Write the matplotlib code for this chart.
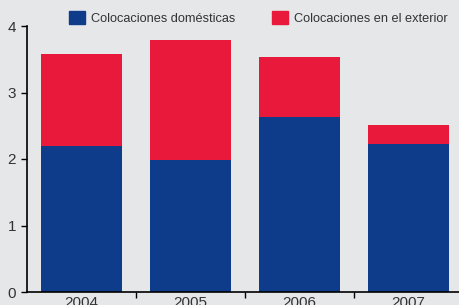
import matplotlib
matplotlib.use('Agg')
import matplotlib.pyplot as plt
import matplotlib.patches as mpatches
from matplotlib.ticker import FixedLocator, NullFormatter
import numpy as np

# ---------------------------------------------------------------------------
# Data
# ---------------------------------------------------------------------------
years = ['2004', '2005', '2006', '2007']
domesticas = [2.19, 1.98, 2.63, 2.23]
exterior = [1.39, 1.81, 0.90, 0.28]

BLUE = '#0f3c8a'
RED = '#e8193a'
BG = '#e6e7e9'
TXT = '#333333'

plt.rcParams['font.family'] = ['Liberation Sans', 'DejaVu Sans']

fig = plt.figure(figsize=(4.6, 3.05), dpi=100)
fig.patch.set_facecolor(BG)
ax = fig.add_axes([27 / 460, 13 / 305, 436 / 460, 266 / 305])
ax.set_facecolor(BG)

x = np.arange(len(years))
ax.bar(x, domesticas, width=0.74, color=BLUE, linewidth=0)
ax.bar(x, exterior, width=0.74, bottom=domesticas, color=RED, linewidth=0)

ax.set_xlim(-0.5, 3.5)
ax.set_ylim(0, 4)
ax.set_yticks([0, 1, 2, 3, 4])
ax.tick_params(axis='y', direction='out', length=4, width=1, labelsize=11,
               pad=4, labelcolor=TXT)

ax.set_xticks(x)
ax.set_xticklabels(years)
ax.tick_params(axis='x', which='major', length=0, labelsize=11, pad=3, labelcolor=TXT)
ax.xaxis.set_minor_locator(FixedLocator([0.5, 1.5, 2.5]))
ax.xaxis.set_minor_formatter(NullFormatter())
ax.tick_params(axis='x', which='minor', direction='out', length=4, width=1)

for s in ['top', 'right']:
    ax.spines[s].set_visible(False)
ax.spines['left'].set_linewidth(1.2)
ax.spines['bottom'].set_linewidth(1.2)

handles = [
    mpatches.Patch(color=BLUE, label='Colocaciones domésticas'),
    mpatches.Patch(color=RED, label='Colocaciones en el exterior'),
]
fig.legend(handles=handles, ncol=2, loc='center', bbox_to_anchor=(258 / 460, 1 - 18 / 305),
           frameon=False, fontsize=9.2, handlelength=1.25, handleheight=1.25,
           handletextpad=0.45, columnspacing=2.9, labelcolor=TXT)

fig.savefig('out.png', dpi=100, facecolor=BG)
